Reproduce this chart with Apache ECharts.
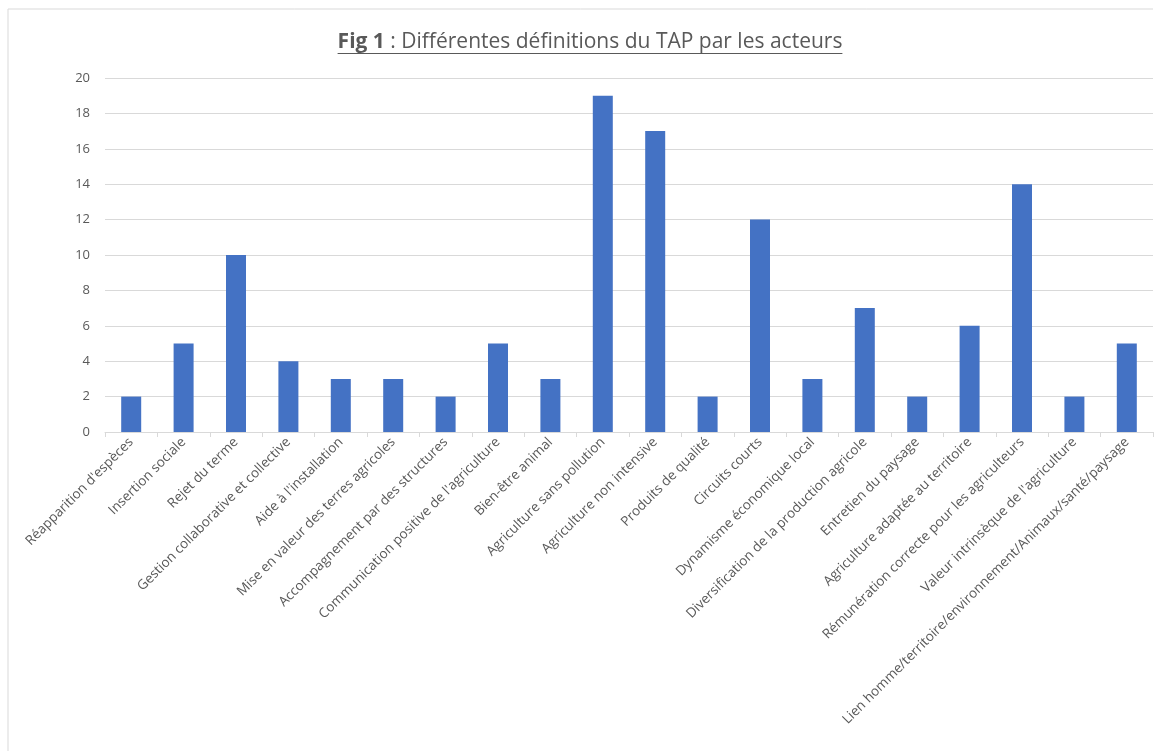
<!DOCTYPE html>
<html>
<head>
<meta charset="utf-8">
<script src="https://cdn.jsdelivr.net/npm/echarts@6/dist/echarts.min.js"></script>
<style>
  html, body { margin: 0; padding: 0; background: #ffffff; }
  #chart { width: 1158px; height: 751px; }
</style>
</head>
<body>
<div id="chart"></div>
<script>
// Definitions of TAP given by the actors, number of mentions each
const categories = [
  "Réapparition d'espèces",
  "Insertion sociale",
  "Rejet du terme",
  "Gestion collaborative et collective",
  "Aide à l'installation",
  "Mise en valeur des terres agricoles",
  "Accompagnement par des structures",
  "Communication positive de l'agriculture",
  "Bien-être animal",
  "Agriculture sans pollution",
  "Agriculture non intensive",
  "Produits de qualité",
  "Circuits courts",
  "Dynamisme économique local",
  "Diversification de la production agricole",
  "Entretien du paysage",
  "Agriculture adaptée au territoire",
  "Rémunération correcte pour les agriculteurs",
  "Valeur intrinsèque de l'agriculture",
  "Lien homme/territoire/environnement/Animaux/santé/paysage"
];
const counts = [2, 5, 10, 4, 3, 3, 2, 5, 3, 19, 17, 2, 12, 3, 7, 2, 6, 14, 2, 5];
const yTicks = { min: 0, max: 20, interval: 2 };

const titleBold = 'Fig 1';
const titleRest = ' : Différentes définitions du TAP par les acteurs';

const FONT = '"Open Sans", "Liberation Sans", sans-serif';
const TEXT = '#595959';
const TITLE_SIZE = 21;

// Measure the two title parts so they can be centred and underlined together
const ctx = document.createElement('canvas').getContext('2d');
ctx.font = 'bold ' + TITLE_SIZE + 'px ' + FONT;
const wBold = ctx.measureText(titleBold).width;
ctx.font = 'normal ' + TITLE_SIZE + 'px ' + FONT;
const wRest = ctx.measureText(titleRest).width;
const titleCx = 590, titleCy = 42;
const tx0 = titleCx - (wBold + wRest) / 2;
const underlineY = titleCy + TITLE_SIZE / 2 + 1;

const chart = echarts.init(document.getElementById('chart'));

chart.setOption({
  backgroundColor: '#ffffff',
  animation: false,
  grid: { left: 105, right: 5, top: 78, bottom: 319, containLabel: false },
  xAxis: {
    type: 'category',
    data: categories,
    axisLine: { lineStyle: { color: '#d9d9d9', width: 1 } },
    axisTick: { show: true, alignWithLabel: false, length: 5, lineStyle: { color: '#d9d9d9' } },
    axisLabel: {
      interval: 0,
      rotate: 45,
      margin: 8,
      color: TEXT,
      fontFamily: FONT,
      fontSize: 13.5
    }
  },
  yAxis: {
    type: 'value',
    min: yTicks.min,
    max: yTicks.max,
    interval: yTicks.interval,
    axisLine: { show: false },
    axisTick: { show: false },
    splitLine: { lineStyle: { color: '#d9d9d9', width: 1 } },
    axisLabel: { color: TEXT, fontFamily: FONT, fontSize: 13, margin: 15 }
  },
  series: [{
    type: 'bar',
    data: counts,
    barWidth: 20,
    itemStyle: { color: '#4472c4' }
  }],
  graphic: [
    {
      type: 'polyline',
      shape: { points: [[8, 751], [8, 9], [1153, 9]] },
      style: { stroke: '#d9d9d9', lineWidth: 1, fill: null }
    },
    {
      type: 'text',
      x: tx0, y: titleCy,
      style: {
        text: titleBold, fill: TEXT, font: 'bold ' + TITLE_SIZE + 'px ' + FONT,
        textAlign: 'left', textVerticalAlign: 'middle'
      }
    },
    {
      type: 'text',
      x: tx0 + wBold, y: titleCy,
      style: {
        text: titleRest, fill: TEXT, font: 'normal ' + TITLE_SIZE + 'px ' + FONT,
        textAlign: 'left', textVerticalAlign: 'middle'
      }
    },
    {
      type: 'line',
      shape: { x1: tx0, y1: underlineY, x2: tx0 + wBold + wRest, y2: underlineY },
      style: { stroke: TEXT, lineWidth: 1 }
    }
  ]
});
</script>
</body>
</html>
